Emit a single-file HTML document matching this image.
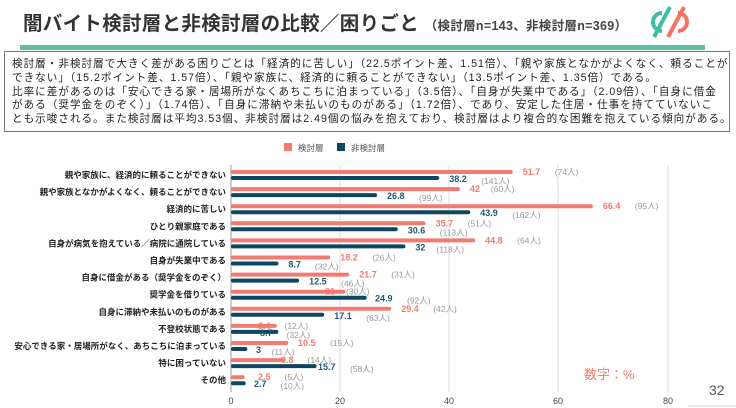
<!DOCTYPE html>
<html><head><meta charset="utf-8"><style>
body{margin:0;width:736px;height:408px;background:#fff;overflow:hidden;font-family:"Liberation Sans","Noto Sans CJK JP",sans-serif;position:relative}
.t{position:absolute;left:23px;top:7px;font-size:19.5px;font-weight:bold;color:#333;white-space:nowrap;letter-spacing:0.3px}
.t small{font-size:12.5px;font-weight:bold;color:#444}
.bar{position:absolute;left:20px;top:45px;width:685px;height:5px;background:#5cc0a9}
.box{position:absolute;left:4px;top:51px;width:726px;height:81px;border:1.5px solid #777;box-sizing:border-box;padding:6px 0 0 7px;font-size:10.6px;line-height:13.8px;color:#222;white-space:nowrap;letter-spacing:1px}
</style></head><body>
<div class="t">闇バイト検討層と非検討層の比較／困りごと <small>（検討層n=143、非検討層n=369）</small></div>
<svg style="position:absolute;left:640px;top:4px" width="60" height="36" viewBox="0 0 60 36">
<path d="M22 9 A9 9 0 1 0 22 27" fill="none" stroke="#3dbfa3" stroke-width="4"/>
<path d="M30 3 L14 33" stroke="#3dbfa3" stroke-width="4"/>
<path d="M38 9 A9 9 0 1 1 38 27" fill="none" stroke="#f27466" stroke-width="4"/>
<path d="M44 3 L28 33" stroke="#f27466" stroke-width="4"/>
</svg>
<div class="bar"></div>
<div class="box">検討層・非検討層で大きく差がある困りごとは「経済的に苦しい」（22.5ポイント差、1.51倍）、「親や家族となかがよくなく、頼ることが<br>できない」（15.2ポイント差、1.57倍）、「親や家族に、経済的に頼ることができない」（13.5ポイント差、1.35倍）である。<br>比率に差があるのは「安心できる家・居場所がなくあちこちに泊まっている」（3.5倍）、「自身が失業中である」（2.09倍）、「自身に借金<br>がある（奨学金をのぞく）」（1.74倍）、「自身に滞納や未払いのものがある」（1.72倍）、であり、安定した住居・仕事を持てていないこ<br>とも示唆される。また検討層は平均3.53個、非検討層は2.49個の悩みを抱えており、検討層はより複合的な困難を抱えている傾向がある。</div>
<svg style="position:absolute;left:0;top:0" width="736" height="408" font-family="Liberation Sans, Noto Sans CJK JP, sans-serif">
<rect x="284" y="143" width="8" height="8" fill="#f47a70"/><text x="298" y="151" font-size="8.5" fill="#555">検討層</text>
<rect x="337" y="143" width="8" height="8" fill="#0d4661"/><text x="351" y="151" font-size="8.5" fill="#555">非検討層</text>
<g stroke="#ddd" stroke-width="1"><line x1="340" y1="165" x2="340" y2="392"/><line x1="449" y1="165" x2="449" y2="392"/><line x1="558" y1="165" x2="558" y2="392"/><line x1="668" y1="165" x2="668" y2="392"/></g>
<line x1="231" y1="165" x2="231" y2="392" stroke="#999"/>
<g font-size="9" fill="#444" text-anchor="middle"><text x="231" y="404">0</text><text x="340" y="404">20</text><text x="449" y="404">40</text><text x="558" y="404">60</text><text x="668" y="404">80</text></g>
<g id="rows"></g>
<text x="584" y="379" font-size="13" fill="#f47a70">数字：%</text>
<text x="709" y="395" font-size="14" fill="#555">32</text>
<line x1="688" y1="406" x2="736" y2="406" stroke="#ccc"/>
</svg>
<script>
var d=[["親や家族に、経済的に頼ることができない",51.7,"74",38.2,"141"],
["親や家族となかがよくなく、頼ることができない",42,"60",26.8,"99"],
["経済的に苦しい",66.4,"95",43.9,"162"],
["ひとり親家庭である",35.7,"51",30.6,"113"],
["自身が病気を抱えている／病院に通院している",44.8,"64",32,"118"],
["自身が失業中である",18.2,"26",8.7,"32"],
["自身に借金がある（奨学金をのぞく）",21.7,"31",12.5,"46"],
["奨学金を借りている",21,"30",24.9,"92"],
["自身に滞納や未払いのものがある",29.4,"42",17.1,"63"],
["不登校状態である",8.4,"12",8.7,"32"],
["安心できる家・居場所がなく、あちこちに泊まっている",10.5,"15",3,"11"],
["特に困っていない",9.8,"14",15.7,"58"],
["その他",2.5,"5",2.7,"10"]];
var s="",k=5.45,x0=231;
d.forEach(function(r,i){var y=172+i*17.1;
var pe=x0+r[1]*k,be=x0+r[3]*k;
s+='<text x="226" y="'+(y+6)+'" font-size="8.5" font-weight="bold" fill="#222" text-anchor="end">'+r[0]+'</text>';
s+='<rect x="231" y="'+(y-2)+'" width="'+(r[1]*k)+'" height="4" rx="2" fill="#f47a70"/>';
s+='<rect x="231" y="'+(y+4)+'" width="'+(r[3]*k)+'" height="4" rx="2" fill="#0d4661"/>';
var pl=pe+10,bl=be+10;
if(i==9){pl=258;bl=260}if(i==12){pl=258;bl=254}if(i==11){pl=281;bl=318}if(i==10){pl=298;bl=256}if(i==7){pl=325;bl=375}
s+='<text x="'+pl+'" y="'+(y+3)+'" font-size="9" font-weight="bold" fill="#f47a70">'+r[1]+'</text>';
s+='<text x="'+(pl+String(r[1]).length*5.5+10)+'" y="'+(y+3)+'" font-size="8.5" fill="#999">('+r[2]+'人)</text>';
s+='<text x="'+bl+'" y="'+(y+10)+'" font-size="9" font-weight="bold" fill="#1d5a7a">'+r[3]+'</text>';
s+='<text x="'+(bl+String(r[3]).length*5.5+10)+'" y="'+(y+12)+'" font-size="8.5" fill="#999">('+r[4]+'人)</text>';
});
document.getElementById("rows").innerHTML=s;
</script>
</body></html>
